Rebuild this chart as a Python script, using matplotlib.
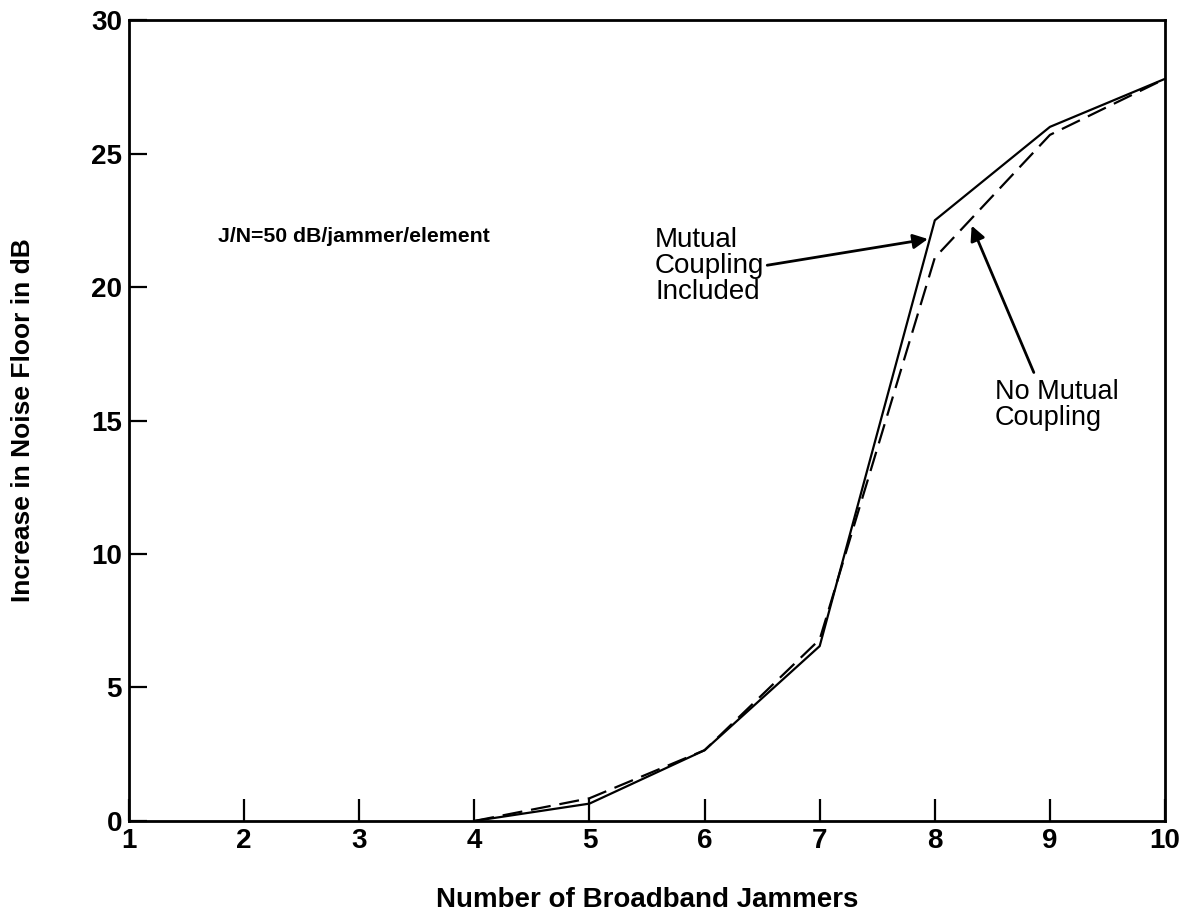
import matplotlib.pyplot as plt

# Number of broadband jammers
jammers = [4, 5, 6, 7, 8, 9, 10]
# Increase in noise floor (dB)
with_coupling = [0.0, 0.65, 2.65, 6.55, 22.5, 26.0, 27.8]
no_coupling = [0.0, 0.85, 2.65, 6.8, 21.1, 25.7, 27.8]

x_ticks = [1, 2, 3, 4, 5, 6, 7, 8, 9, 10]
y_ticks = [0, 5, 10, 15, 20, 25, 30]

plt.rcParams['font.family'] = ['Liberation Sans', 'DejaVu Sans']

fig = plt.figure(figsize=(11.81, 9.13), dpi=100)
ax = fig.add_axes([0.1092, 0.1008, 0.8773, 0.8772])

ax.plot(jammers, with_coupling, color='black', linewidth=1.6)
ax.plot(jammers, no_coupling, color='black', linewidth=1.6,
        dashes=(9, 4))

ax.set_xlim(1, 10)
ax.set_ylim(0, 30)
ax.set_xticks(x_ticks)
ax.set_yticks(y_ticks)
ax.tick_params(direction='in', length=16, width=1.6, labelsize=20,
               pad=5)
ax.tick_params(axis='y', length=13)
for lab in ax.get_xticklabels() + ax.get_yticklabels():
    lab.set_fontweight('bold')
for sp in ax.spines.values():
    sp.set_linewidth(2)

ax.set_xlabel("Number of Broadband Jammers", fontsize=20,
              fontweight='bold', labelpad=24)
ax.set_ylabel("Increase in Noise Floor in dB", fontsize=19,
              fontweight='bold', labelpad=40)

ax.text(1.77, 21.9, "J/N=50 dB/jammer/element", fontsize=15.3,
        fontweight='bold', va='center', ha='left')

arrow = dict(arrowstyle='-|>', color='black', lw=2,
             mutation_scale=22, shrinkA=0, shrinkB=0)
ax.annotate("Mutual\nCoupling\nIncluded", xy=(7.94, 21.8),
            xytext=(5.57, 20.8), fontsize=20, ha='left', va='center',
            linespacing=1.0, arrowprops=dict(arrow, relpos=(1.0, 0.5)))
ax.annotate("", xy=(8.32, 22.3), xytext=(8.86, 16.8), arrowprops=arrow)
ax.text(8.52, 15.6, "No Mutual\nCoupling", fontsize=19.5, ha='left',
        va='center', linespacing=1.0)

fig.savefig("out.png", dpi=100)
